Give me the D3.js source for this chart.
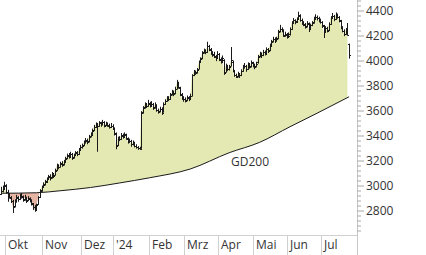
<!DOCTYPE html>
<html>
<head>
<meta charset="utf-8">
<script src="https://cdn.jsdelivr.net/npm/d3@7"></script>
<style>
  body { margin: 0; background: #fff; }
  svg { display: block; font-family: "Open Sans", sans-serif; }
</style>
</head>
<body>
<div id="chart"></div>
<script>
// daily bars, Sep 27 2023 .. Jul 2024 (trading-day index)
const opens = [2935,2960,2975,3000,2950,2925,2900,2875,2835,2870,2905,2895,2925,2910,2885,2900,2885,2895,2880,2850,2830,2810,2850,2910,2965,
  2985,3010,3030,3055,3075,3065,3095,3085,3125,3160,3150,3180,3170,3195,3220,3245,3230,3250,3225,3250,3265,3255,3290,
  3305,3325,3350,3365,3355,3395,3410,3445,3470,3490,3480,3505,3490,3505,3485,3495,3480,3470,3480,
  3455,3415,3325,3380,3370,3405,3390,3405,3375,3355,3355,3330,3340,3320,3310,3300,3300,3585,3625,3650,3640,
  3655,3645,3650,3625,3640,3600,3595,3610,3590,3655,3680,3700,3695,3730,3745,3740,3775,3815,3780,3725,3700,
  3690,3685,3700,3695,3720,3885,3905,3905,3935,3995,4020,4065,4080,4070,4115,4085,4060,4045,4030,4025,
  4050,4005,3995,4005,3910,3955,3935,3960,3990,3915,3885,3875,3890,3885,3920,3950,3955,3935,3965,3955,3980,
  3955,3955,3985,4035,4050,4045,4065,4060,4090,4085,4125,4155,4170,4160,4180,4235,4250,4240,4205,4205,
  4195,4210,4255,4305,4320,4315,4335,4360,4320,4300,4285,4275,4295,4255,4285,4305,4335,4350,4340,4320,
  4305,4275,4230,4260,4245,4295,4345,4355,4335,4365,4345,4315,4260,4235,4215,4250,4130];
const highs = [2990,3000,3030,3010,2965,2940,2915,2885,2890,2925,2915,2935,2940,2920,2925,2910,2915,2905,2890,2860,2845,2855,2915,2970,3000,
  3025,3045,3065,3085,3090,3108,3100,3135,3175,3170,3190,3195,3205,3230,3255,3260,3270,3260,3255,3275,3275,3300,3325,
  3335,3360,3380,3375,3405,3425,3455,3485,3505,3500,3515,3510,3525,3515,3510,3505,3495,3500,3490,
  3465,3425,3390,3395,3420,3415,3425,3415,3385,3375,3365,3360,3350,3330,3315,3310,3595,3635,3665,3660,3685,
  3670,3675,3660,3665,3650,3615,3630,3625,3665,3690,3715,3715,3740,3765,3760,3790,3845,3830,3790,3740,3715,
  3705,3720,3715,3735,3890,3925,3920,3940,4000,4025,4075,4095,4090,4150,4125,4100,4075,4070,4045,4075,
  4060,4025,4040,4010,3975,3965,3965,4108,4000,3925,3895,3910,3900,3930,3965,3980,3965,3985,3980,4000,3990,
  3975,3990,4045,4070,4065,4085,4080,4105,4100,4135,4165,4190,4185,4190,4245,4285,4265,4250,4230,4220,
  4225,4265,4315,4340,4330,4345,4390,4370,4335,4315,4300,4315,4305,4295,4315,4350,4370,4360,4350,4335,
  4315,4285,4275,4270,4305,4355,4380,4365,4385,4375,4355,4325,4275,4250,4260,4300,4135];
const lows = [2925,2945,2970,2935,2870,2895,2860,2780,2825,2865,2870,2885,2895,2870,2880,2860,2875,2865,2840,2805,2790,2800,2845,2900,2950,
  2980,3000,3020,3045,3040,3055,3060,3080,3115,3130,3145,3150,3160,3185,3210,3215,3220,3205,3215,3235,3235,3245,3280,
  3295,3315,3335,3330,3345,3385,3400,3435,3460,3270,3470,3470,3480,3465,3475,3470,3455,3460,3445,
  3400,3290,3315,3355,3365,3375,3380,3365,3335,3340,3310,3320,3305,3295,3285,3285,3295,3575,3615,3620,3630,
  3625,3630,3605,3615,3590,3575,3585,3565,3585,3645,3670,3675,3685,3720,3715,3730,3770,3775,3715,3685,3670,
  3665,3675,3675,3685,3715,3875,3885,3895,3930,3985,4010,4055,4050,4060,4075,4045,4030,4020,3995,4015,
  3995,3975,3985,3885,3905,3915,3920,3955,3905,3870,3860,3865,3860,3875,3910,3935,3910,3925,3935,3945,3945,
  3930,3945,3975,4025,4020,4035,4040,4050,4060,4075,4115,4145,4140,4150,4170,4225,4225,4190,4190,4175,
  4185,4200,4245,4295,4290,4300,4325,4310,4285,4275,4255,4265,4228,4245,4275,4295,4325,4320,4305,4295,
  4260,4180,4220,4225,4235,4285,4335,4315,4325,4335,4305,4250,4225,4195,4205,4200,4015];
const closes = [2955,2975,3005,2945,2930,2905,2880,2830,2875,2900,2890,2920,2915,2890,2905,2880,2900,2885,2860,2825,2805,2845,2905,2960,2990,
  3005,3035,3050,3070,3060,3090,3080,3120,3160,3150,3175,3165,3190,3215,3240,3225,3255,3220,3245,3260,3250,3285,3310,
  3320,3345,3360,3350,3390,3405,3440,3470,3490,3475,3500,3490,3510,3480,3495,3485,3470,3480,3460,
  3420,3320,3375,3370,3400,3390,3410,3380,3350,3360,3330,3345,3320,3310,3300,3295,3580,3620,3650,3635,3660,
  3640,3655,3620,3645,3600,3590,3615,3580,3650,3675,3700,3690,3725,3745,3735,3770,3820,3790,3730,3700,3690,
  3680,3705,3690,3720,3880,3910,3900,3925,3990,4010,4060,4080,4065,4120,4090,4060,4050,4035,4020,4055,
  4010,3990,4020,3900,3960,3930,3950,4000,3920,3885,3870,3890,3880,3915,3945,3960,3930,3970,3950,3985,3960,
  3950,3975,4030,4055,4040,4070,4055,4090,4080,4120,4150,4175,4160,4170,4230,4255,4245,4200,4210,4190,
  4200,4250,4300,4320,4310,4330,4365,4320,4300,4290,4270,4300,4250,4280,4300,4330,4350,4340,4320,4310,
  4280,4225,4260,4240,4290,4340,4360,4330,4365,4350,4320,4265,4240,4210,4245,4205,4045];

// 200-day average, read at a few days
const gdDay   = [0, 21, 35, 53, 70, 88, 112, 135, 153, 171, 187, 206];
const gdValue = [2938, 2942, 2958, 2984, 3020, 3062, 3132, 3262, 3345, 3470, 3578, 3710];

// month labels and their first trading day
const monthLabels = ["Okt", "Nov", "Dez", "'24", "Feb", "Mrz", "Apr", "Mai", "Jun", "Jul"];
const monthStart  = [3, 25, 48, 67, 88, 109, 129, 150, 170, 190];

const width = 426, height = 255;
const plotRight = 357, plotBottom = 235;

const bars = closes.map((c, i) => ({i, o: opens[i], h: highs[i], l: lows[i], c}));
const gd = gdDay.map((d, k) => ({i: d, v: gdValue[k]}));
// today's bar is still running, the fill stops at the last complete day
const filled = bars.slice(0, bars.length - 1);

const x = d3.scaleLinear().domain([0, bars.length - 1]).range([1, 349.1]);
const y = d3.scaleLinear().domain([2604, 4484]).range([plotBottom, 0]);

const svg = d3.select("#chart").append("svg")
    .attr("width", width)
    .attr("height", height)
    .attr("viewBox", [0, 0, width, height]);

// clip regions above / below the close line
const defs = svg.append("defs");
defs.append("clipPath").attr("id", "aboveClose")
  .append("path")
    .attr("d", d3.area().x(d => x(d.i)).y0(0).y1(d => y(d.c))(filled));
defs.append("clipPath").attr("id", "belowClose")
  .append("path")
    .attr("d", d3.area().x(d => x(d.i)).y0(plotBottom).y1(d => y(d.c))(filled));

const gdCurve = d3.curveMonotoneX;

// price above GD200
svg.append("path")
    .attr("clip-path", "url(#belowClose)")
    .attr("fill", "#e4e9b3")
    .attr("d", d3.area().curve(gdCurve).x(d => x(d.i)).y0(0).y1(d => y(d.v))(gd));

// price below GD200
svg.append("path")
    .attr("clip-path", "url(#aboveClose)")
    .attr("fill", "#e5b4a3")
    .attr("d", d3.area().curve(gdCurve).x(d => x(d.i)).y0(plotBottom).y1(d => y(d.v))(gd));

// GD200 line
svg.append("path")
    .attr("fill", "none")
    .attr("stroke", "#1a1a1a")
    .attr("stroke-width", 1)
    .attr("d", d3.line().curve(gdCurve).x(d => x(d.i)).y(d => y(d.v))(gd));

svg.append("text")
    .attr("x", 250)
    .attr("y", 166)
    .attr("text-anchor", "middle")
    .attr("font-size", 12)
    .attr("fill", "#333")
    .text("GD200");

// OHLC bars
svg.append("g")
    .attr("stroke", "#1a1a1a")
    .attr("stroke-width", 1)
    .attr("fill", "none")
  .selectAll("path")
  .data(bars)
  .join("path")
    .attr("d", d => {
      const xr = Math.round(x(d.i)) + 0.5;
      const yo = Math.round(y(d.o)) + 0.5, yc = Math.round(y(d.c)) + 0.5;
      return `M${xr},${y(d.h)}V${y(d.l)}M${xr - 1.5},${yo}H${xr}M${xr},${yc}H${xr + 1.5}`;
    });

// bottom frame and month separators
svg.append("line")
    .attr("x1", 0).attr("x2", plotRight)
    .attr("y1", plotBottom + 0.5).attr("y2", plotBottom + 0.5)
    .attr("stroke", "#d0d0d0");

const months = svg.append("g");
monthLabels.forEach((m, k) => {
  const sx = Math.round(x(monthStart[k])) - 0.5;
  months.append("line")
      .attr("x1", sx).attr("x2", sx)
      .attr("y1", plotBottom).attr("y2", height)
      .attr("stroke", "#d0d0d0");
  months.append("text")
      .attr("x", sx + 2.5)
      .attr("y", 249)
      .attr("font-size", 12)
      .attr("fill", "#333")
      .text(m);
});

// right axis
svg.append("line")
    .attr("x1", plotRight + 0.5).attr("x2", plotRight + 0.5)
    .attr("y1", 0).attr("y2", height)
    .attr("stroke", "#c8c8c8");

const yAxis = g => g
    .attr("transform", `translate(${plotRight},0)`)
    .call(d3.axisRight(y)
      .tickValues(d3.range(2640, 4481, 40))
      .tickSizeInner(4)
      .tickSizeOuter(0)
      .tickPadding(5)
      .tickFormat(v => v % 200 === 0 ? v : ""))
    .call(g => g.select(".domain").remove())
    .call(g => g.selectAll(".tick line")
      .attr("stroke", "#a8a8a8")
      .attr("x2", v => v % 200 === 0 ? 7 : 4))
    .call(g => g.selectAll(".tick text")
      .attr("fill", "#333")
      .attr("font-size", 12)
      .attr("font-family", "Open Sans, sans-serif"));

svg.append("g").call(yAxis);
</script>
</body>
</html>
